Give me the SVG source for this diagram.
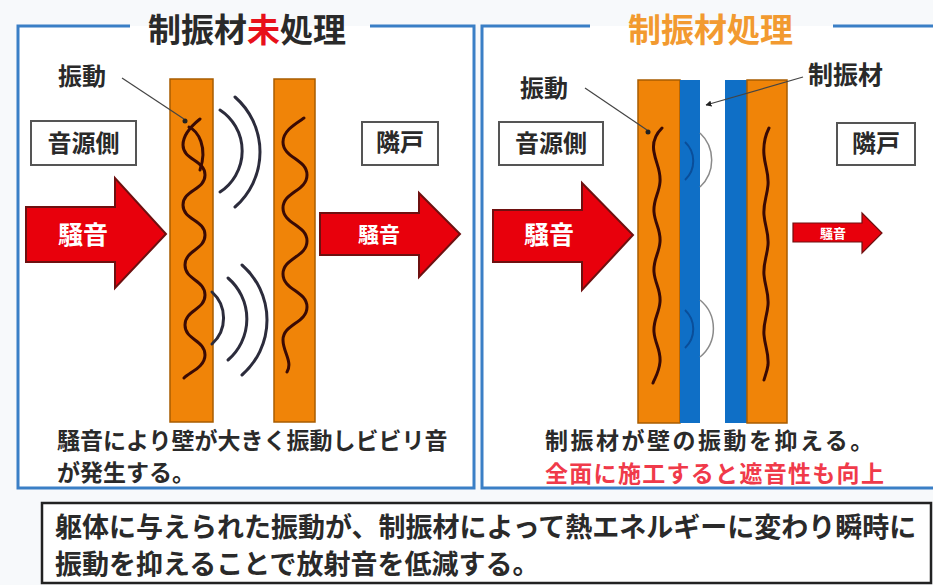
<svg xmlns="http://www.w3.org/2000/svg" width="933" height="585" viewBox="0 0 933 585">
<defs>
<style>
.t{font-family:"Noto Sans CJK JP","Noto Sans CJK SC",sans-serif;font-weight:bold;fill:#2a2a2a}
.panel{fill:none;stroke:#3a7fc6;stroke-width:3}
.wall{fill:#f08408;stroke:#a85c00;stroke-width:1.5}
.damp{fill:#0f6fc6}
.wave{fill:none;stroke:#3a0a04;stroke-width:3;stroke-linecap:round}
.arc{fill:none;stroke:#2c2c3c;stroke-width:3;stroke-linecap:round}
.garc{fill:none;stroke:#8a8a8a;stroke-width:1.5}
.barc{fill:none;stroke:#0a4e9a;stroke-width:2}
.box{fill:#fff;stroke:#555;stroke-width:2}
.arrow{fill:#e8000c;stroke:#6e1010;stroke-width:2;stroke-linejoin:miter}
.at{font-family:"Noto Sans CJK JP",sans-serif;font-weight:bold;fill:#fff;text-anchor:middle}
.lead{fill:none;stroke:#444;stroke-width:1.2}
</style>
<marker id="ah" viewBox="0 0 10 10" refX="9" refY="5" markerWidth="5" markerHeight="5" orient="auto"><path d="M0,0 L10,5 L0,10 Z" fill="#222"/></marker>
</defs>
<rect width="933" height="585" fill="#f7f9fb"/>
<rect x="18" y="26" width="456" height="462" fill="#fff"/>
<rect x="482" y="26" width="460" height="462" fill="#fff"/>

<g id="panel-left">
<path class="panel" d="M130,26 L18,26 L18,488 L474,488 L474,26 L370,26"/>
<text class="t" x="148" y="42" font-size="33">制振材<tspan fill="#e8101a">未</tspan>処理</text>
</g>
<g id="panel-right">
<path class="panel" d="M590,26 L482,26 L482,488 L945,488 M833,26 L945,26"/>
<text class="t" x="628" y="42" font-size="33" style="fill:#f29a30">制振材処理</text>
</g>

<g id="left-walls">
<rect class="wall" x="170" y="79" width="43" height="343"/>
<rect class="wall" x="274" y="79" width="41" height="343"/>
<path class="wave" d="M200,119 C190,127 183,136 183,145 C183,160 205,160 205,175 C205,190 183,190 183,205 C183,220 205,220 205,235 C205,250 185,250 185,265 C185,280 205,280 205,295 C205,310 185,310 185,325 C185,340 205,340 205,355 C205,367 190,372 184,378"/>
<path class="wave" d="M189,127 C198,131 208,147 200,170"/>
<path class="wave" d="M304,118 C295,124 283,131 283,142 C283,158 307,159 307,175 C307,191 283,192 283,208 C283,224 307,225 307,241 C307,257 283,258 283,274 C283,290 307,291 307,307 C307,323 283,324 283,340 C283,352 293,362 287,372"/>
</g>
<g id="left-sound">
<path class="arc" d="M220,110 A49,49 0 0 1 220,192"/>
<path class="arc" d="M235,97 A73,73 0 0 1 235,207"/>
<path class="arc" d="M212,292 A35,35 0 0 1 212,344"/>
<path class="arc" d="M228,278 A54,54 0 0 1 228,360"/>
<path class="arc" d="M242,265 A73,73 0 0 1 242,375"/>
</g>
<g id="left-label-vib"><text class="t" x="58" y="85" font-size="24">振動</text><circle cx="185" cy="121" r="2.5" fill="#222"/></g>
<g id="left-source"><rect class="box" x="31" y="121" width="105" height="44"/><text class="t" x="83.5" y="152" font-size="24" text-anchor="middle">音源側</text></g>
<g id="left-neighbor"><rect class="box" x="362" y="122" width="76" height="43"/><text class="t" x="400" y="151" font-size="24" text-anchor="middle">隣戸</text></g>
<g id="left-noise-in"><path class="arrow" d="M26,207 L115,207 L115,178 L166,234 L115,288 L115,262 L26,262 Z"/><text class="at" x="83" y="244" font-size="25">騒音</text></g>
<g id="left-noise-out"><path class="arrow" d="M320,213 L419,213 L419,193 L460,234 L419,277 L419,255 L320,255 Z"/><text class="at" x="379" y="242" font-size="21">騒音</text></g>
<g id="left-caption"><text class="t" x="57" y="449" font-size="23">騒音により壁が大きく振動しビビリ音</text><text class="t" x="57" y="481" font-size="23">が発生する。</text></g>

<g id="right-walls">
<rect class="wall" x="638" y="80" width="42" height="343"/>
<rect class="damp" x="680" y="80" width="20" height="343"/>
<rect class="damp" x="725" y="80" width="22" height="343"/>
<rect class="wall" x="747" y="80" width="40" height="343"/>
<path class="wave" d="M662,128 C656,134 652,142 654,152 C656,164 661,170 660,182 C659,194 653,200 654,212 C655,224 661,230 660,242 C659,254 653,260 654,272 C655,284 661,290 660,302 C659,314 653,320 654,332 C655,344 661,350 660,362 C659,372 655,378 653,383"/>
<path class="wave" d="M769,128 C765,136 763,144 764,155 C765,167 769,173 768,185 C767,197 763,203 764,215 C765,227 769,233 768,245 C767,257 763,263 764,275 C765,287 769,293 768,305 C767,317 763,323 764,335 C765,347 769,353 768,365 C767,372 765,376 764,380"/>
</g>
<g id="right-sound">
<path class="barc" d="M685,142 A26,26 0 0 1 685,180"/>
<path class="garc" d="M700,133 A37,37 0 0 1 700,187"/>
<path class="barc" d="M685,310 A26,26 0 0 1 685,348"/>
<path class="garc" d="M700,300 A37,37 0 0 1 700,357"/>
</g>
<g id="right-label-vib"><text class="t" x="520" y="97" font-size="24">振動</text><circle cx="648" cy="132" r="2.5" fill="#222"/></g>
<g id="right-label-damp"><text class="t" x="808" y="84" font-size="25">制振材</text></g>
<g id="right-source"><rect class="box" x="499" y="122" width="104" height="43"/><text class="t" x="551" y="152" font-size="24" text-anchor="middle">音源側</text></g>
<g id="right-neighbor"><rect class="box" x="837" y="123" width="78" height="42"/><text class="t" x="876" y="152" font-size="24" text-anchor="middle">隣戸</text></g>
<g id="right-noise-in"><path class="arrow" d="M493,210 L582,210 L582,183 L633,235 L582,290 L582,262 L493,262 Z"/><text class="at" x="549" y="244" font-size="25">騒音</text></g>
<g id="right-noise-out"><path class="arrow" style="stroke-width:1.2" d="M793,223 L862,223 L862,213 L882,233 L862,253 L862,242 L793,242 Z"/><text class="at" x="833" y="238" font-size="13">騒音</text></g>
<g id="right-caption"><text class="t" x="545" y="449" font-size="23" letter-spacing="2.5">制振材が壁の振動を抑える。</text><text class="t" x="545" y="482" font-size="23" letter-spacing="1.3" style="fill:#f03a4a">全面に施工すると遮音性も向上</text></g>

<g id="summary"><rect x="42" y="503" width="889" height="80" fill="#fff" stroke="#222" stroke-width="2.5"/>
<text class="t" x="55" y="537" font-size="27">躯体に与えられた振動が、制振材によって熱エネルギーに変わり瞬時に</text>
<text class="t" x="55" y="574" font-size="27">振動を抑えることで放射音を低減する。</text></g>

<g id="connectors">
<path class="lead" d="M122,78 L184,119"/>
<path class="lead" d="M585,88 L647,130"/>
<path class="lead" d="M803,77 L706,105" marker-end="url(#ah)"/>
</g>
</svg>
